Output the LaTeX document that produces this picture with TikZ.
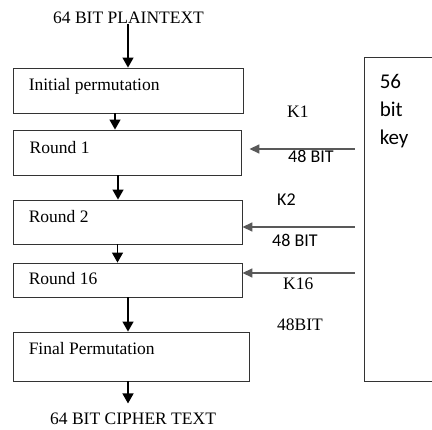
\documentclass[tikz,border=0pt]{standalone}
\usepackage{fontspec}
\setmainfont{Liberation Serif}
\newfontfamily\calfont{Carlito}
\usetikzlibrary{arrows.meta,calc}

\begin{document}
\begin{tikzpicture}
 [x=1pt,y=-1pt,
  stage/.style={draw=black!80,line width=0.9pt,rectangle,inner sep=0pt},
  boxtext/.style={anchor=base west,inner sep=0pt,font=\fontsize{17.5}{20}\selectfont},
  caption/.style={anchor=base west,inner sep=0pt,font=\fontsize{17.5}{20}\selectfont},
  keylabel/.style={anchor=base west,inner sep=0pt,font=\fontsize{17.5}{20}\selectfont},
  sanslabel/.style={anchor=base west,inner sep=0pt,font=\calfont\fontsize{18}{20}\selectfont},
  flow/.style={-{Triangle[length=10pt,width=11pt]},line width=1.4pt,black},
  keyflow/.style={-{Triangle[length=10pt,width=9pt]},line width=1.6pt,black!65}]

 \useasboundingbox (0,0) rectangle (432,430);

 % main chain
 \node[caption] (plain) at (53,24) {64 BIT PLAINTEXT};
 \node[stage, minimum width=230pt, minimum height=45pt] (ip)  at (128,90.5) {};
 \node[stage, minimum width=228pt, minimum height=45pt] (r1)  at (127,152.5) {};
 \node[stage, minimum width=229pt, minimum height=44pt] (r2)  at (127.5,222) {};
 \node[stage, minimum width=229pt, minimum height=34pt] (r16) at (127.5,280) {};
 \node[stage, minimum width=236pt, minimum height=49pt] (fp)  at (131,356.5) {};
 \node[caption] (cipher) at (50,425) {64 BIT CIPHER TEXT};

 \node[boxtext] (iptxt)  at ([xshift=16pt,yshift=-23pt]ip.north west)  {Initial permutation};
 \node[boxtext] (r1txt)  at ([xshift=17pt,yshift=-24pt]r1.north west)  {Round 1};
 \node[boxtext] (r2txt)  at ([xshift=16pt,yshift=-23pt]r2.north west)  {Round 2};
 \node[boxtext] (r16txt) at ([xshift=16pt,yshift=-22pt]r16.north west) {Round 16};
 \node[boxtext] (fptxt)  at ([xshift=16pt,yshift=-23pt]fp.north west)  {Final Permutation};

 % key schedule
 \node[stage, minimum width=81pt, minimum height=324pt] (key) at (404.5,219) {};
 \node[anchor=north west,inner sep=0pt,align=left,
       font=\calfont\fontsize{21}{28}\selectfont] (keytxt)
       at ([xshift=16pt,yshift=-18pt]key.north west) {56\\bit\\key};

 \node[keylabel]  (k1)   at (287,118) {K1};
 \node[sanslabel] (b1)   at (288,163) {48 BIT};
 \node[sanslabel] (k2)   at (277,206) {K2};
 \node[sanslabel] (b2)   at (272,247) {48 BIT};
 \node[keylabel]  (k16)  at (283,290) {K16};
 \node[keylabel]  (b16)  at (277,331) {48BIT};

 % arrows
 \draw[flow] (plain.south -| ip.north) -- (ip.north);
 \draw[flow] ([xshift=-13pt]ip.south) -- ([xshift=-13pt]ip.south |- r1.north);
 \draw[flow] ([xshift=-9pt]r1.south) -- ([xshift=-9pt]r1.south |- r2.north);
 \draw[flow] ([xshift=-10pt]r2.south) -- ([xshift=-10pt]r2.south |- r16.north);
 \draw[flow] ([xshift=0.5pt]r16.south) -- ([xshift=0.5pt]r16.south |- fp.north);
 \draw[flow] ([xshift=-3pt]fp.south) -- ([xshift=-3pt,yshift=-22pt]fp.south);

 \draw[keyflow] ([xshift=-9pt,yshift=3.5pt]key.west |- r1.east) -- ([xshift=8pt,yshift=3.5pt]r1.east);
 \draw[keyflow] ([xshift=-9pt,yshift=-5pt]key.west |- r2.east) -- ([yshift=-5pt]r2.east);
 \draw[keyflow] ([xshift=-9pt,yshift=7pt]key.west |- r16.east) -- ([yshift=7pt]r16.east);
\end{tikzpicture}
\end{document}
